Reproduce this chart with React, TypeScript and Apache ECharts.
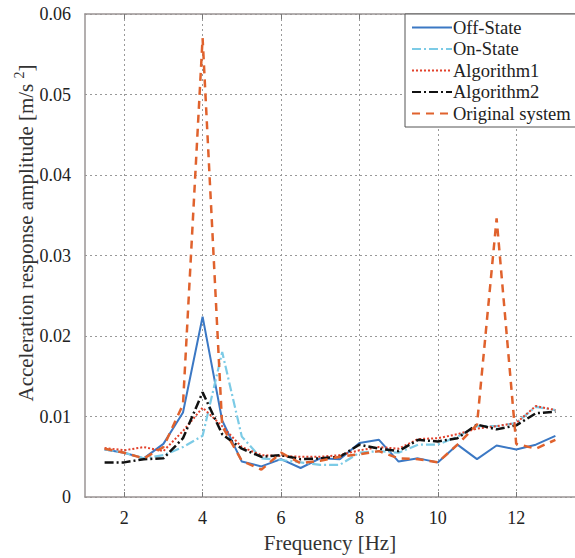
import React, { useEffect, useRef } from "react";
import * as echarts from "echarts";

const freq = [1.5, 2, 2.5, 3, 3.5, 4, 4.5, 5, 5.5, 6, 6.5, 7, 7.5, 8, 8.5, 9, 9.5, 10, 10.5, 11, 11.5, 12, 12.5, 13];
const offState = [0.0059, 0.0055, 0.0048, 0.0066, 0.0105, 0.0224, 0.0095, 0.0044, 0.0038, 0.0047, 0.0036, 0.0048, 0.0047, 0.0067, 0.0071, 0.0044, 0.0048, 0.0043, 0.0065, 0.0047, 0.0064, 0.0059, 0.0065, 0.0076];
const onState = [0.0059, 0.0055, 0.0048, 0.0052, 0.0062, 0.0076, 0.018, 0.0075, 0.0048, 0.0046, 0.0043, 0.004, 0.004, 0.0055, 0.0057, 0.0055, 0.0065, 0.0065, 0.0075, 0.0088, 0.0088, 0.0092, 0.0112, 0.0108];
const algorithm1 = [0.0061, 0.0058, 0.0062, 0.0057, 0.0082, 0.0111, 0.0088, 0.0062, 0.0052, 0.0051, 0.005, 0.005, 0.0052, 0.0058, 0.0062, 0.006, 0.0072, 0.0073, 0.0078, 0.0085, 0.0088, 0.0092, 0.0113, 0.0108];
const algorithm2 = [0.0043, 0.0043, 0.0047, 0.0048, 0.0073, 0.013, 0.0078, 0.006, 0.005, 0.0052, 0.0047, 0.0048, 0.005, 0.0065, 0.006, 0.0057, 0.0071, 0.0069, 0.0073, 0.009, 0.0084, 0.0089, 0.0104, 0.0106];
const original = [0.006, 0.0055, 0.0048, 0.0062, 0.0115, 0.057, 0.0088, 0.0045, 0.0034, 0.0055, 0.0042, 0.0045, 0.005, 0.0053, 0.0057, 0.0048, 0.0047, 0.0043, 0.0065, 0.009, 0.0346, 0.0066, 0.006, 0.0071];
const xTicks = [2, 4, 6, 8, 10, 12];

const seriesDefs = [
  { name: "Off-State", data: offState, color: "#3b78c4", type: "solid", width: 2 },
  { name: "On-State", data: onState, color: "#7ccbe6", type: [9, 3, 2, 3], width: 2.2 },
  { name: "Algorithm1", data: algorithm1, color: "#e2412b", type: [2, 2], width: 2 },
  { name: "Algorithm2", data: algorithm2, color: "#111111", type: [9, 3, 2, 3], width: 2.5 },
  { name: "Original system", data: original, color: "#e0622d", type: [8, 6], width: 2.5 },
];

const FONT = "'Liberation Serif', 'Times New Roman', serif";

export default function App() {
  const ref = useRef<HTMLDivElement>(null);
  useEffect(() => {
    if (!ref.current) return;
    const chart = echarts.init(ref.current, undefined, { renderer: "svg" });
    const axisColor = "#9a9494";
    chart.setOption({
      animation: false,
      backgroundColor: "#fff",
      textStyle: { fontFamily: FONT },
      grid: { left: 85, top: 14, width: 494, bottom: 57, containLabel: false },
      legend: {
        orient: "vertical",
        left: 405,
        top: 14,
        width: 200,
        padding: [4, 60, 4, 6],
        itemGap: 2.5,
        itemWidth: 40,
        itemHeight: 14,
        backgroundColor: "#fff",
        borderColor: "#555",
        borderWidth: 1,
        borderRadius: 0,
        itemStyle: { opacity: 0 },
        textStyle: { fontFamily: FONT, fontSize: 18.5, lineHeight: 17, color: "#222", padding: [0, 0, 0, -4] },
        data: seriesDefs.map((s) => s.name),
      },
      xAxis: [
        {
          type: "value",
          min: 1,
          max: 13.5,
          name: "Frequency [Hz]",
          nameLocation: "middle",
          nameGap: 35,
          nameTextStyle: { fontFamily: FONT, fontSize: 21, color: "#333" },
          axisLine: { show: true, onZero: false, lineStyle: { color: axisColor, width: 1.5 } },
          axisTick: { show: true, inside: true, length: 5, customValues: xTicks, lineStyle: { color: "#777" } },
          axisLabel: { customValues: xTicks, fontFamily: FONT, fontSize: 18, color: "#222", margin: 12 },
          splitLine: { show: true, lineStyle: { type: [2, 3], color: "#999", width: 1 } },
        },
        {
          type: "value",
          position: "top",
          min: 1,
          max: 13.5,
          axisLine: { show: true, onZero: false, lineStyle: { color: axisColor, width: 1.5 } },
          axisTick: { show: true, inside: true, length: 5, customValues: xTicks, lineStyle: { color: "#777" } },
          axisLabel: { show: false },
          splitLine: { show: false },
        },
      ],
      yAxis: {
        type: "value",
        min: 0,
        max: 0.06,
        interval: 0.01,
        axisLine: { show: true, onZero: false, lineStyle: { color: axisColor, width: 1.5 } },
        axisTick: { show: false },
        axisLabel: { fontFamily: FONT, fontSize: 18, color: "#222", margin: 14 },
        splitLine: { show: true, lineStyle: { type: [2, 3], color: "#999", width: 1 } },
      },
      graphic: [
        {
          type: "text",
          x: 24,
          y: 233,
          rotation: Math.PI / 2,
          style: {
            text: "{a|Acceleration response amplitude [m/s }{s|2}{a|]}",
            align: "center",
            verticalAlign: "middle",
            rich: {
              a: { fontFamily: FONT, fontSize: 21, fill: "#333", verticalAlign: "bottom", lineHeight: 24 },
              s: { fontFamily: FONT, fontSize: 14, fill: "#333", verticalAlign: "top", lineHeight: 24 },
            },
          },
        },
      ],
      series: seriesDefs.map((s) => ({
        name: s.name,
        type: "line",
        symbol: "none",
        data: freq.map((f, i) => [f, s.data[i]]),
        lineStyle: { color: s.color, type: s.type, width: s.width },
        itemStyle: { color: s.color },
      })),
    });
    return () => chart.dispose();
  }, []);
  return <div ref={ref} style={{ position: "fixed", left: 0, top: 0, width: 575, height: 558 }} />;
}
